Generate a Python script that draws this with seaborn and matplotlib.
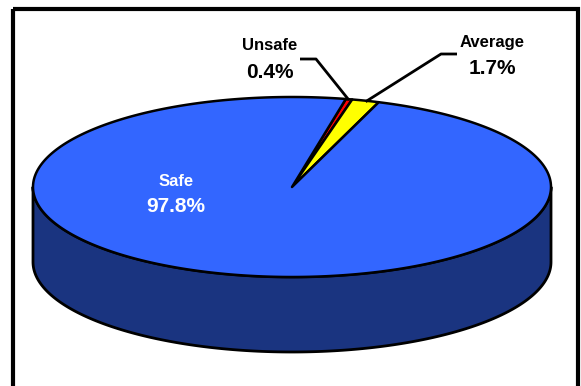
import numpy as np
import matplotlib.pyplot as plt
import seaborn as sns
from matplotlib.patches import Polygon, Rectangle

# --- data ---
categories = ["Unsafe", "Average", "Safe"]      # clockwise from the start angle
shares = [0.4, 1.7, 97.8]
top_colors = ["#FF0000", "#FFFF00", "#3366FF"]
side_colors = ["#800000", "#808000", "#1A3480"]
label_colors = ["black", "black", "white"]

sns.set_theme(style="white")
plt.rcParams["font.family"] = ["Liberation Sans", "DejaVu Sans"]
palette = sns.color_palette(top_colors)

fig = plt.figure(figsize=(5.81, 3.86), dpi=100)
ax = fig.add_axes([0, 0, 1, 1])
ax.set_xlim(0, 581)
ax.set_ylim(386, 0)
ax.axis("off")

# ellipse geometry (pixel-like units)
cx, cy, a, b, depth = 292, 187, 259, 90, 75
start = 78.0


def rim(theta_deg, dy=0.0):
    t = np.radians(theta_deg)
    return cx + a * np.cos(t), cy - b * np.sin(t) + dy


# slice angles (clockwise)
fr = np.array(shares) / np.sum(shares)
edges = start - np.concatenate([[0], np.cumsum(fr)]) * 360

# side wall: visible for the front half (theta 180..360)
for i in range(len(shares)):
    lo, hi = sorted((edges[i + 1], edges[i]))
    # map into the front range
    for off in (-360, 0, 360):
        s0, s1 = max(lo + off, 180), min(hi + off, 360)
        if s1 > s0:
            th = np.linspace(s0, s1, 200)
            top = np.array([rim(t) for t in th])
            bot = np.array([rim(t, depth) for t in th[::-1]])
            ax.add_patch(Polygon(np.vstack([top, bot]), closed=True,
                                 facecolor=side_colors[i], edgecolor="black",
                                 lw=2, joinstyle="round", zorder=1))

# top face wedges
for i in range(len(shares)):
    th = np.linspace(edges[i], edges[i + 1], 400)
    pts = np.array([(cx, cy)] + [rim(t) for t in th])
    ax.add_patch(Polygon(pts, closed=True, facecolor=palette[i],
                         edgecolor="black", lw=1.8, joinstyle="round",
                         zorder=2))

# labels
mid = (edges[:-1] + edges[1:]) / 2
fs_name, fs_pct = 12, 15
# Unsafe / Average: outside with leader lines
lab_pos = {"Unsafe": (270, 45, 72, 300, 316),
           "Average": (492, 42, 68, 457, 441)}
for i, name in enumerate(categories):
    pct = f"{shares[i]:.1f}%"
    if name in lab_pos:
        x, y1, y2, lx0, lx1 = lab_pos[name]
        ax.text(x, y1, name, ha="center", va="center", fontsize=fs_name,
                fontweight="bold", color=label_colors[i])
        ax.text(x, y2, pct, ha="center", va="center", fontsize=fs_pct,
                fontweight="bold", color=label_colors[i])
        ly = 59 if name == "Unsafe" else 54
        ex, ey = rim(mid[i])
        ax.plot([lx0, lx1, ex], [ly, ly, ey + 1], color="black", lw=2,
                zorder=3, solid_capstyle="butt")
    else:
        ax.text(176, 181, name, ha="center", va="center", fontsize=fs_name,
                fontweight="bold", color=label_colors[i], zorder=4)
        ax.text(176, 207, pct, ha="center", va="center", fontsize=fs_pct,
                fontweight="bold", color=label_colors[i], zorder=4)

# outer frame
ax.add_patch(Rectangle((13, 9), 565, 400, fill=False, edgecolor="black",
                       lw=3, zorder=5))

fig.savefig("out.png", dpi=100)
